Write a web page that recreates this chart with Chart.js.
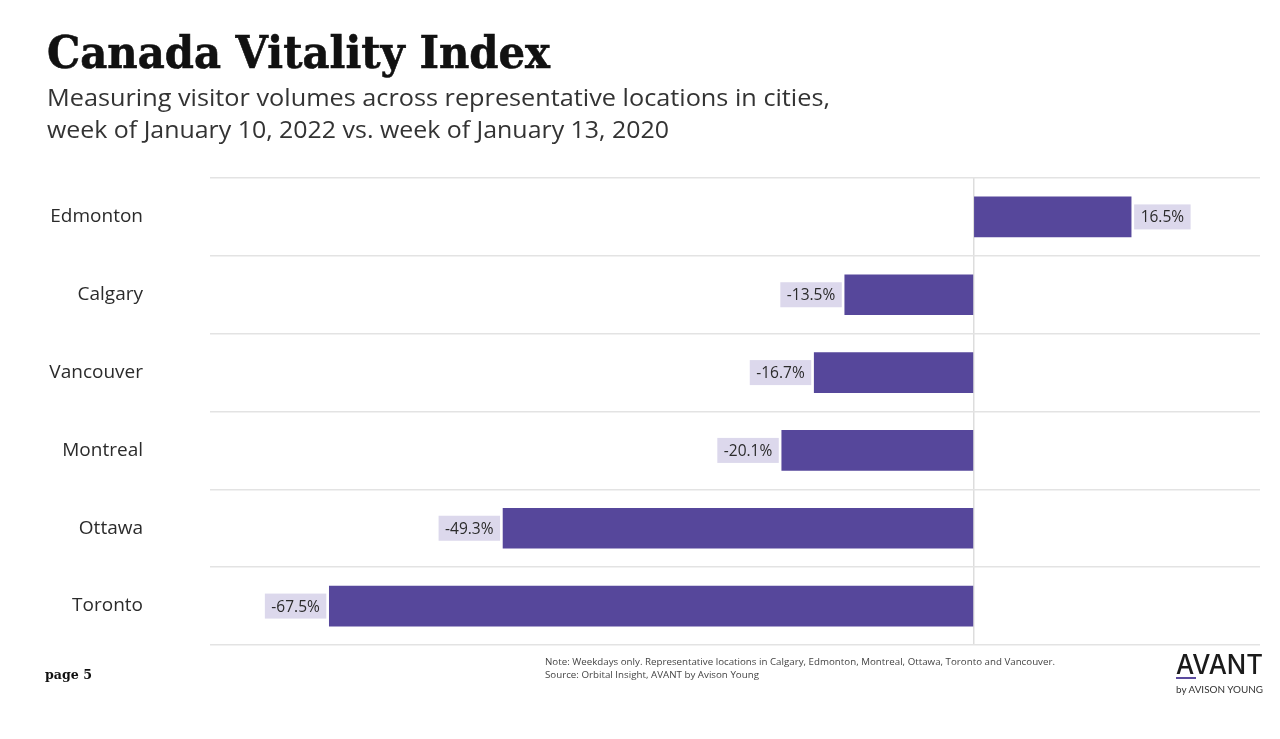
<!DOCTYPE html>
<html>
<head>
<meta charset="utf-8">
<script src="https://cdn.jsdelivr.net/npm/chart.js@4/dist/chart.umd.min.js"></script>
<style>
  html, body { margin:0; padding:0; background:#ffffff; }
  body { width:1280px; height:739px; position:relative; overflow:hidden; font-family:"Open Sans", sans-serif; }
  #wrap { position:absolute; left:0; top:0; width:1280px; height:739px; }
  .t { position:absolute; white-space:nowrap; transform-origin:0 0; }
  #title { left:47px; top:30px; font-family:"DejaVu Serif", serif; font-weight:bold; font-size:45px; line-height:45px; color:#111; -webkit-text-stroke:0.6px #111; }
  .sub { left:47px; font-size:24px; line-height:32px; color:#333; }
  .note { left:545px; font-size:9.5px; line-height:12px; color:#444; }
  #page { left:45px; top:667px; font-family:"DejaVu Serif", serif; font-weight:bold; font-size:13px; line-height:16px; color:#111; }
  #avant { left:1176px; top:650px; font-family:"Inter", sans-serif; font-weight:500; font-size:27px; line-height:30px; color:#1a1a1a; }
  #avline { position:absolute; left:1176px; top:677px; width:20px; height:2px; background:#5a4a9e; }
  #by { left:1176px; top:684px; font-family:"Lato", sans-serif; font-size:9px; line-height:12px; color:#333; }
</style>
</head>
<body>
<div id="wrap"><canvas id="c" width="1280" height="739"></canvas></div>
<div class="t" id="title" data-w="503">Canada Vitality Index</div>
<div class="t sub" style="top:81px" data-w="783">Measuring visitor volumes across representative locations in cities,</div>
<div class="t sub" style="top:113px" data-w="622">week of January 10, 2022 vs. week of January 13, 2020</div>
<div class="t note" style="top:656px" data-w="510">Note: Weekdays only. Representative locations in Calgary, Edmonton, Montreal, Ottawa, Toronto and Vancouver.</div>
<div class="t note" style="top:669px" data-w="214">Source: Orbital Insight, AVANT by Avison Young</div>
<div class="t" id="page" data-w="47">page 5</div>
<div class="t" id="avant" data-w="87">AVANT</div>
<div id="avline"></div>
<div class="t" id="by" data-w="87">by AVISON YOUNG</div>
<script>
// ---- data ----
const categories = ["Edmonton", "Calgary", "Vancouver", "Montreal", "Ottawa", "Toronto"];
const changePct = [16.5, -13.5, -16.7, -20.1, -49.3, -67.5];
const valueLabels = ["16.5%", "-13.5%", "-16.7%", "-20.1%", "-49.3%", "-67.5%"];

// fit text widths
document.querySelectorAll('.t[data-w]').forEach(el => {
  const target = parseFloat(el.dataset.w);
  const w = el.getBoundingClientRect().width;
  if (w > 0) el.style.transform = 'scaleX(' + (target / w) + ')';
});

const labelPlugin = {
  id: 'valueLabels',
  afterDatasetsDraw(chart) {
    const ctx = chart.ctx;
    const meta = chart.getDatasetMeta(0);
    ctx.save();
    ctx.font = '15.5px "Open Sans", sans-serif';
    ctx.textBaseline = 'middle';
    meta.data.forEach((bar, i) => {
      const txt = valueLabels[i];
      const tw = ctx.measureText(txt).width;
      const bw = tw + 13, bh = 25;
      const v = changePct[i];
      let x0;
      if (v >= 0) x0 = bar.x + 3; else x0 = bar.x - 3 - bw;
      const y0 = bar.y - bh / 2;
      ctx.fillStyle = '#dcd8ec';
      ctx.fillRect(x0, y0, bw, bh);
      ctx.fillStyle = '#2b2b2b';
      ctx.textAlign = 'left';
      ctx.fillText(txt, x0 + 6.5, bar.y + 1);
    });
    ctx.restore();
  }
};

new Chart(document.getElementById('c'), {
  type: 'bar',
  data: {
    labels: categories,
    datasets: [{
      data: changePct,
      backgroundColor: '#56479b',
      borderWidth: 0,
      barThickness: 40
    }]
  },
  options: {
    indexAxis: 'y',
    responsive: false,
    animation: false,
    layout: { padding: { left: 0, right: 20, top: 178, bottom: 94 } },
    plugins: { legend: { display: false }, tooltip: { enabled: false } },
    scales: {
      x: {
        min: -80, max: 30,
        ticks: { display: false, stepSize: 10 },
        border: { display: false },
        grid: {
          drawTicks: false,
          lineWidth: 1.5,
          color: (c) => (c.tick && c.tick.value === 0) ? '#dddddd' : 'rgba(0,0,0,0)'
        }
      },
      y: {
        afterFit: (s) => { s.width = 210; },
        border: { display: false },
        grid: { drawTicks: false, color: '#e3e3e3', lineWidth: 1.5, offset: true },
        ticks: {
          padding: 67,
          color: '#2b2b2b',
          font: { family: '"Open Sans", sans-serif', size: 19 }
        }
      }
    }
  },
  plugins: [labelPlugin]
});
</script>
</body>
</html>
